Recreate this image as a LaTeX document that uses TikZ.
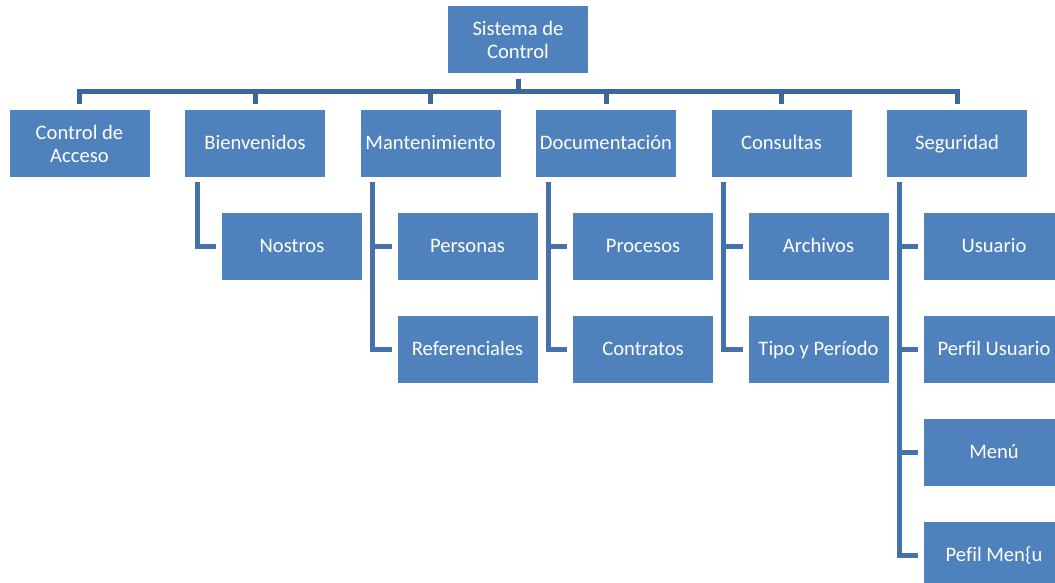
\documentclass[tikz,border=0pt]{standalone}
\usepackage{fontspec}
\setmainfont{Carlito}[Ligatures=NoCommon]
\definecolor{boxblue}{HTML}{4F81BD}
\definecolor{topline}{HTML}{3D679A}
\definecolor{subline}{HTML}{4571AC}
\tikzset{
  box/.style={rectangle, fill=boxblue, draw=white, line width=1pt,
    minimum width=141pt, minimum height=68pt, inner sep=0pt,
    text=white, font=\fontsize{20.6}{23}\selectfont, align=center},
  one/.style={box, text height=13pt, text depth=0pt},
  two/.style={box, text depth=0pt},
  topconn/.style={draw=topline, line width=5pt, shorten <=4.5pt, shorten >=5pt},
  subconn/.style={draw=subline, line width=5pt, shorten <=4.5pt, shorten >=5pt}
}
\begin{document}
\begin{tikzpicture}[x=1pt,y=1pt]
\useasboundingbox (0,0) rectangle (1055,583);
\clip (0,0) rectangle (1055,583);
% root
\node[two] (root) at (518,543) {Sistema de\\Control};
% level 1
\node[two] (acc) at (79.5,439.5) {Control de\\Acceso};
\node[one] (bien) at (255,439.5) {Bienvenidos};
\node[one] (mant) at (430.5,439.5) {Mantenimiento};
\node[one] (doc) at (606,439.5) {Documentación};
\node[one] (cons) at (781.5,439.5) {Consultas};
\node[one] (seg) at (957,439.5) {Seguridad};
% children
\node[one] (nos) at (292,336.5) {Nostros};
\node[one] (per) at (467.5,336.5) {Personas};
\node[one] (ref) at (467.5,233.5) {Referenciales};
\node[one] (proc) at (643,336.5) {Procesos};
\node[one] (cont) at (643,233.5) {Contratos};
\node[one] (arch) at (818.5,336.5) {Archivos};
\node[one] (tipo) at (818.5,233.5) {Tipo y Período};
\node[one] (usu) at (994,336.5) {Usuario};
\node[one] (pusu) at (994,233.5) {Perfil Usuario};
\node[one] (menu) at (994,130.5) {Menú};
\node[one] (pmenu) at (994,27.5) {Pefil Men\{u};
% top connectors
\foreach \c in {acc,bien,mant,doc,cons,seg}
  \draw[topconn] (root.south) -- ++(0,-17.5) -| (\c.north);
% child connectors
\draw[subconn] ([xshift=-58pt]bien.south) |- (nos.west);
\draw[subconn] ([xshift=-58pt]mant.south) |- (per.west);
\draw[subconn] ([xshift=-58pt]mant.south) |- (ref.west);
\draw[subconn] ([xshift=-58pt]doc.south) |- (proc.west);
\draw[subconn] ([xshift=-58pt]doc.south) |- (cont.west);
\draw[subconn] ([xshift=-58pt]cons.south) |- (arch.west);
\draw[subconn] ([xshift=-58pt]cons.south) |- (tipo.west);
\draw[subconn] ([xshift=-58pt]seg.south) |- (usu.west);
\draw[subconn] ([xshift=-58pt]seg.south) |- (pusu.west);
\draw[subconn] ([xshift=-58pt]seg.south) |- (menu.west);
\draw[subconn] ([xshift=-58pt]seg.south) |- (pmenu.west);
\end{tikzpicture}
\end{document}
